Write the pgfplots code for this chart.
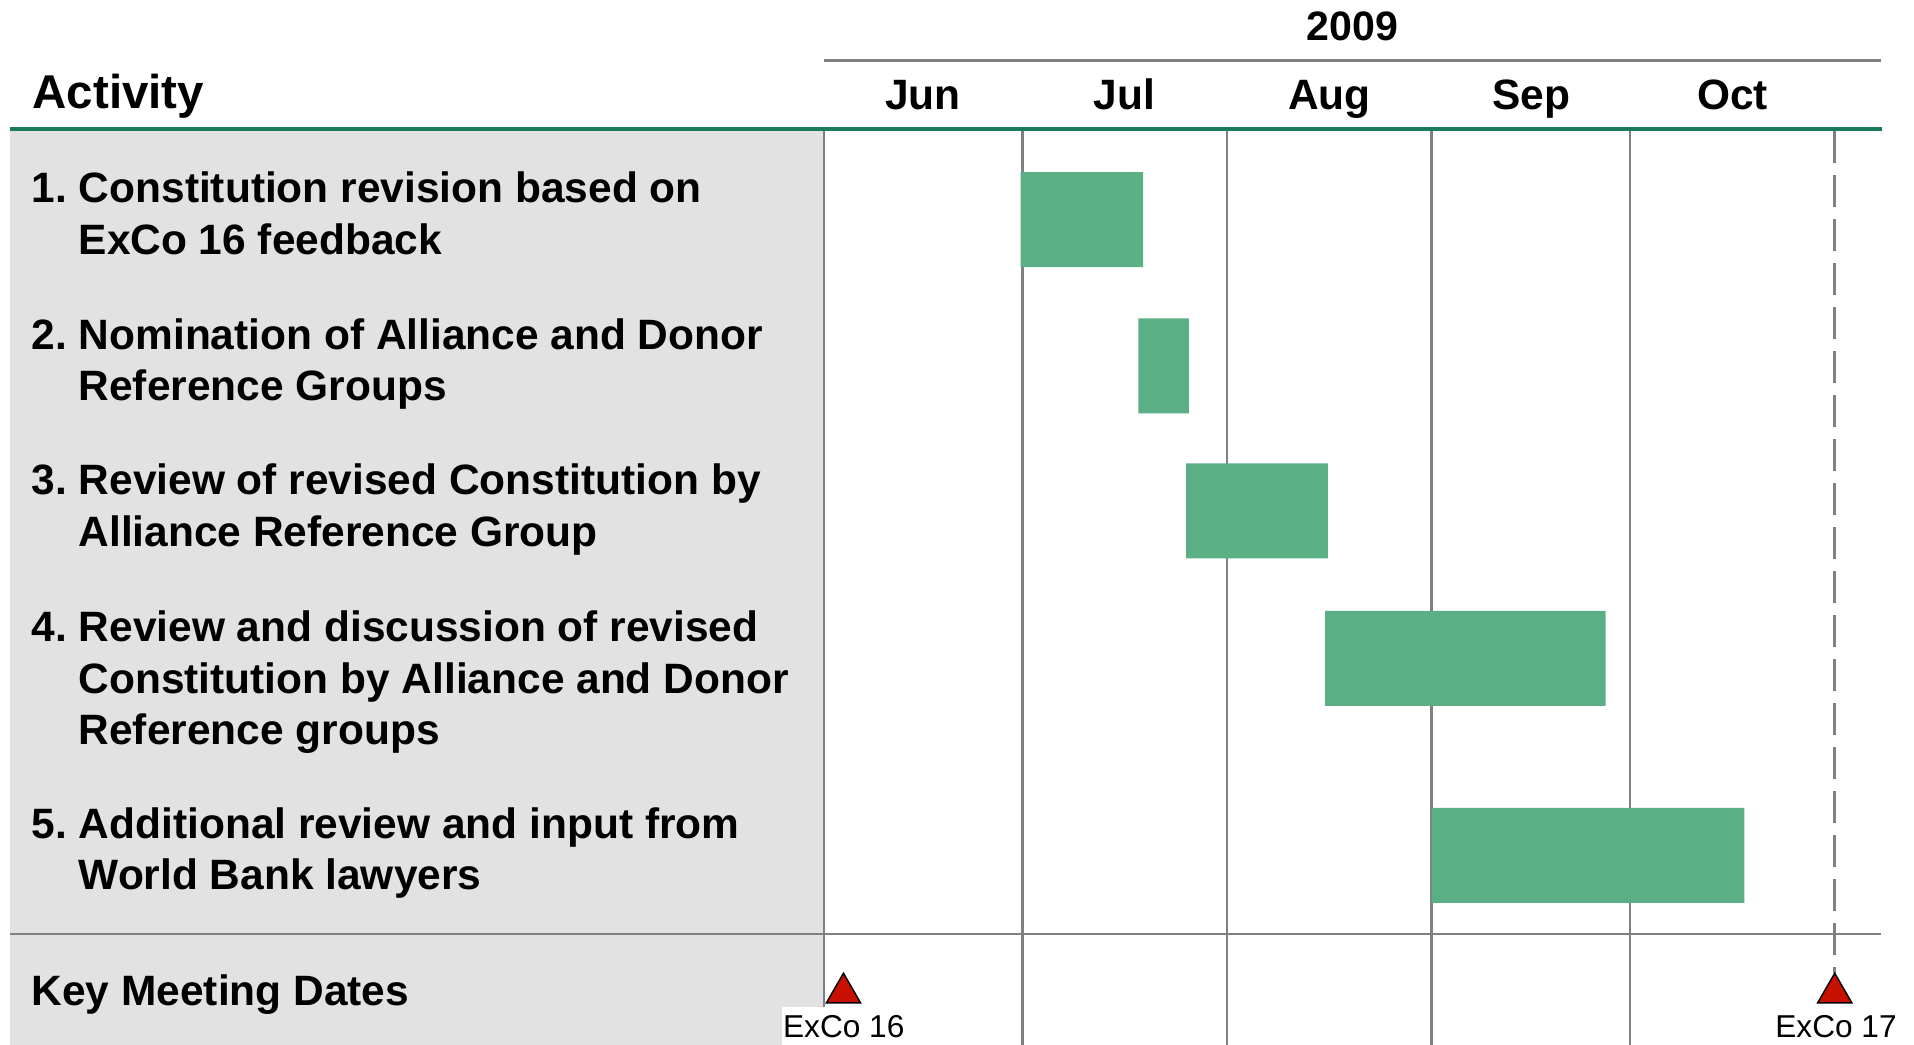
\documentclass[border=0pt]{standalone}
\usepackage{pgfplots}
\pgfplotsset{compat=1.18}
\usepackage{pgfplotstable}
\usepackage{fontspec}
\setmainfont{Liberation Sans}

\definecolor{panel}{RGB}{226,226,226}
\definecolor{hdrgreen}{RGB}{26,122,90}
\definecolor{bargreen}{RGB}{91,175,132}
\definecolor{gridgray}{RGB}{128,128,128}
\definecolor{mkred}{RGB}{200,16,0}

% days counted from 1 June 2009; y = row centre (layout units, top = 0)
\pgfplotstableread{
row y     start  dur
1   219.7 29.77  18.52
2   365.9 47.58  7.67
3   511.0 54.80  21.49
4   658.3 75.84  42.49
5   855.3 91.99  47.32
}\tasks

\pgfplotstableread{
day  y
2.95 993
153  993
}\meetings

\newcommand\rowfont{\fontsize{12.08}{14}\selectfont\bfseries\frenchspacing}

\begin{document}
\begin{tikzpicture}
\begin{scope}[x=0.1mm,y=-0.1mm]
  \fill[panel] (10,131) rectangle (824,1045);
\end{scope}

\pgfplotsset{chartbox/.style={
  at={(82.4mm,-12.7mm)}, anchor=north west, scale only axis,
  width=105.7mm, height=91.8mm,
  xmin=0, xmax=160, ymin=127, ymax=1045, y dir=reverse,
  clip=false}}

\begin{axis}[chartbox,
  xbar stacked, bar width=95,
  xtick={0,30,61,92,122}, xticklabels={}, ytick=\empty,
  xmajorgrids, major grid style={gridgray, line width=0.27mm},
  axis line style={draw=none}, major tick length=0pt]
  \addplot[draw=none, fill=none] table[x=start, y=y] {\tasks};
  \addplot[draw=none, fill=bargreen] table[x=dur, y=y] {\tasks};
\end{axis}

\begin{axis}[chartbox, hide axis]
  \addplot[gridgray, line width=0.27mm, dash pattern=on 3.2mm off 1.2mm]
    coordinates {(153,131) (153,973)};
  \addplot[only marks, mark=triangle*, mark size=1.98mm,
    mark options={fill=mkred, draw=none}] table[x=day, y=y] {\meetings};
\end{axis}

\begin{scope}[x=0.1mm,y=-0.1mm, every node/.style={inner sep=0pt}]
  \draw[hdrgreen, line width=0.4mm] (10,129) -- (1882,129);
  \draw[gridgray, line width=0.3mm] (824,60.3) -- (1881,60.3);
  \draw[gridgray, line width=0.27mm] (10,934) -- (1881,934);

  \node[anchor=base] at (1352.5,40.7) {\fontsize{11.7}{14}\selectfont\bfseries 2009};
  \node[anchor=base west] at (32,109) {\fontsize{13.5}{16}\selectfont\bfseries Activity};
  \node[anchor=base] at (923,110) {\rowfont Jun};
  \node[anchor=base] at (1124.5,110) {\rowfont Jul};
  \node[anchor=base] at (1329.5,110) {\rowfont Aug};
  \node[anchor=base] at (1531,110) {\rowfont Sep};
  \node[anchor=base] at (1732.5,110) {\rowfont Oct};

  \node[anchor=base west] at (31,203) {\rowfont 1. Constitution revision based on};
  \node[anchor=base west] at (78,255) {\rowfont ExCo 16 feedback};
  \node[anchor=base west] at (31,350) {\rowfont 2. Nomination of Alliance and Donor};
  \node[anchor=base west] at (78,400.5) {\rowfont Reference Groups};
  \node[anchor=base west] at (31,495) {\rowfont 3. Review of revised Constitution by};
  \node[anchor=base west] at (78,546.7) {\rowfont Alliance Reference Group};
  \node[anchor=base west] at (31,641.7) {\rowfont 4. Review and discussion of revised};
  \node[anchor=base west] at (78,693.3) {\rowfont Constitution by Alliance and Donor};
  \node[anchor=base west] at (78,745) {\rowfont Reference groups};
  \node[anchor=base west] at (31,838.3) {\rowfont 5. Additional review and input from};
  \node[anchor=base west] at (78,890) {\rowfont World Bank lawyers};

  \node[anchor=base west] at (31,1006) {\rowfont Key Meeting Dates};

  \fill[white] (782,1006.7) rectangle (906,1045);
  \node[anchor=base] at (843.8,1037.7) {\fontsize{9}{11}\selectfont ExCo 16};
  \node[anchor=base] at (1836,1037.7) {\fontsize{9}{11}\selectfont ExCo 17};

  \pgfresetboundingbox
  \path[use as bounding box] (0,0) rectangle (1914,1045);
\end{scope}
\end{tikzpicture}
\end{document}
